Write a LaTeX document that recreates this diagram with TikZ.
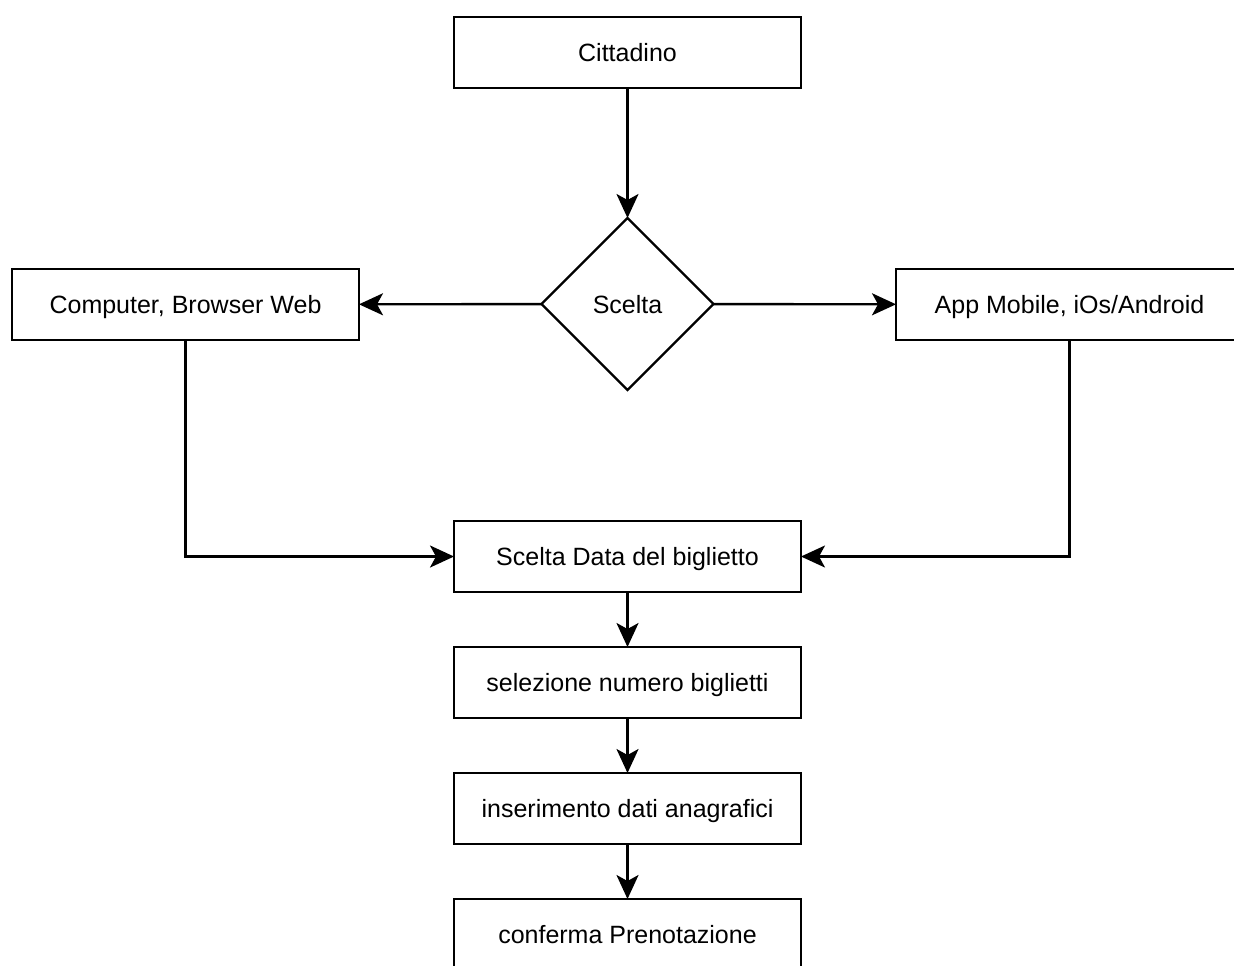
\documentclass[tikz,border=0pt]{standalone}
\usepackage{fontspec}
\setmainfont{Liberation Sans}
\usetikzlibrary{arrows.meta,positioning,shapes.geometric}

\begin{document}
\begin{tikzpicture}[
  % picture in pixel units, y pointing down
  x=0.5pt, y=-0.5pt,
  every node/.style={font=\fontsize{12.5}{15}\selectfont, text height=9pt, text depth=0pt},
  box/.style={
    draw=black,
    line width=1.2pt,
    minimum width=173.5pt,
    minimum height=35.5pt,
    align=center,
    inner sep=0pt,
    outer sep=0pt
  },
  choice/.style={
    draw=black,
    diamond,
    aspect=1,
    line width=1.2pt,
    minimum width=86pt,
    minimum height=86pt,
    inner sep=0pt,
    outer sep=0pt
  },
  arr/.style={
    -{Stealth[length=12pt,width=11pt,inset=3pt]},
    line width=1.2pt
  },
  node distance=27.5pt
]
\useasboundingbox (0,0) rectangle (1234,965);

% Start
\node[box] (citt) at (627.5,52.5) {Cittadino};

% Choice of channel
\node[choice] (scelta) at (627.5,304) {Scelta};
\node[box] (comp) at (185.5,304.5) {Computer, Browser Web};
\node[box] (app) at (1069.5,304.5) {App Mobile, iOs/Android};

% Booking steps
\node[box] (data) at (627.5,556.5) {Scelta Data del biglietto};
\node[box, below=of data] (sel) {selezione numero biglietti};
\node[box, below=of sel] (ins) {inserimento dati anagrafici};
\node[box, below=of ins] (conf) {conferma Prenotazione};

% Arrows
\draw[arr] (citt) -- (scelta);
\draw[arr] (scelta) -- (comp);
\draw[arr] (scelta) -- (app);
\draw[arr] (comp.south) |- (data);
\draw[arr] (app.south) |- (data);
\draw[arr] (data) -- (sel);
\draw[arr] (sel) -- (ins);
\draw[arr] (ins) -- (conf);

\end{tikzpicture}
\end{document}
